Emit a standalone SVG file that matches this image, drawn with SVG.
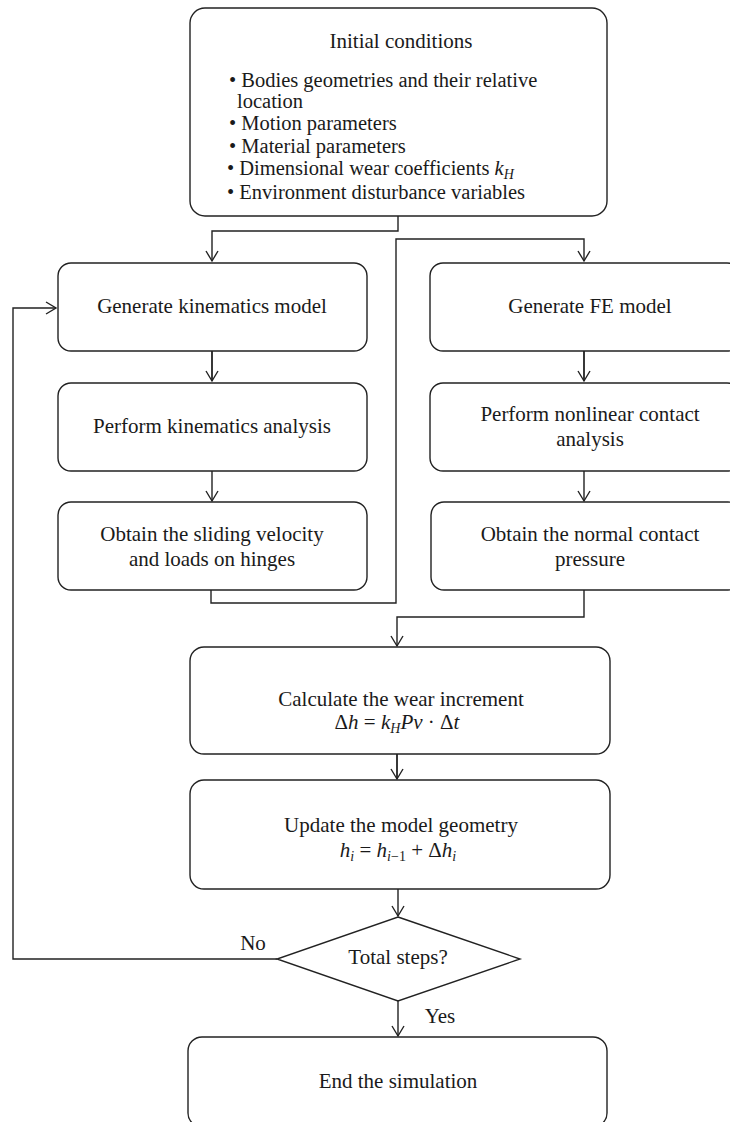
<svg xmlns="http://www.w3.org/2000/svg" width="730" height="1122" viewBox="0 0 730 1122">
<style>
.box{fill:#fff;stroke:#222;stroke-width:1.4}
.ln{fill:none;stroke:#222;stroke-width:1.4}
text{font-family:"Liberation Serif","Times New Roman",serif;font-size:21px;fill:#1a1a1a}
.c{text-anchor:middle}
.it{font-style:italic}
.sub{font-size:14px}
</style>
<defs>
<marker id="ar" markerUnits="userSpaceOnUse" markerWidth="14" markerHeight="14" viewBox="0 0 14 14" refX="11" refY="7" orient="auto">
<path d="M1,1 L11,7 L1,13" fill="none" stroke="#222" stroke-width="1.4"/>
</marker>
</defs>
<rect width="730" height="1122" fill="#fff"/>

<g id="connectors">
<polyline class="ln" points="398,216 398,231 212,231 212,261" marker-end="url(#ar)"/>
<line class="ln" x1="212" y1="351" x2="212" y2="381" marker-end="url(#ar)" style="stroke-width:1.8"/>
<line class="ln" x1="212" y1="471" x2="212" y2="501" marker-end="url(#ar)"/>
<polyline class="ln" points="211,590 211,603 396,603 396,239 584,239 584,261" marker-end="url(#ar)"/>
<line class="ln" x1="584" y1="351" x2="584" y2="381" marker-end="url(#ar)" style="stroke-width:1.8"/>
<line class="ln" x1="584" y1="471" x2="584" y2="501" marker-end="url(#ar)"/>
<polyline class="ln" points="584,590 584,617 397,617 397,646" marker-end="url(#ar)"/>
<line class="ln" x1="397" y1="754" x2="397" y2="779" marker-end="url(#ar)" style="stroke-width:1.8"/>
<line class="ln" x1="398" y1="889" x2="398" y2="916" marker-end="url(#ar)"/>
<polyline class="ln" points="277,959 13,959 13,308 56,308" marker-end="url(#ar)"/>
<line class="ln" x1="398" y1="1001" x2="398" y2="1036" marker-end="url(#ar)"/>
<text x="253" y="950" class="c">No</text>
<text x="440" y="1023" class="c">Yes</text>
</g>

<g id="initial">
<rect class="box" x="190" y="8" width="417" height="208" rx="15"/>
<text x="401" y="48" class="c">Initial conditions</text>
<text x="229" y="87" style="font-size:20.5px">• Bodies geometries and their relative</text>
<text x="237" y="108" style="font-size:20.5px">location</text>
<text x="229" y="130" style="font-size:20.5px">• Motion parameters</text>
<text x="229" y="153" style="font-size:20.5px">• Material parameters</text>
<text x="227" y="175" style="font-size:20.5px">• Dimensional wear coefficients <tspan class="it">k</tspan><tspan class="it sub" dy="4">H</tspan></text>
<text x="227" y="199" style="font-size:20.5px">• Environment disturbance variables</text>
</g>

<g id="gen-kin">
<rect class="box" x="58" y="263" width="309" height="88" rx="13"/>
<text x="212" y="313" class="c">Generate kinematics model</text>
</g>
<g id="perf-kin">
<rect class="box" x="58" y="383" width="309" height="88" rx="13"/>
<text x="212" y="433" class="c">Perform kinematics analysis</text>
</g>
<g id="obtain-vel">
<rect class="box" x="58" y="502" width="309" height="88" rx="13"/>
<text x="212" y="541" class="c">Obtain the sliding velocity</text>
<text x="212" y="566" class="c">and loads on hinges</text>
</g>

<g id="gen-fe">
<rect class="box" x="430" y="263" width="310" height="88" rx="13"/>
<text x="590" y="313" class="c">Generate FE model</text>
</g>
<g id="perf-contact">
<rect class="box" x="430" y="383" width="310" height="88" rx="13"/>
<text x="590" y="421" class="c">Perform nonlinear contact</text>
<text x="590" y="446" class="c">analysis</text>
</g>
<g id="obtain-pressure">
<rect class="box" x="431" y="502" width="310" height="88" rx="13"/>
<text x="590" y="541" class="c">Obtain the normal contact</text>
<text x="590" y="566" class="c">pressure</text>
</g>

<g id="wear">
<rect class="box" x="190" y="647" width="420" height="107" rx="14"/>
<text x="401" y="706" class="c">Calculate the wear increment</text>
<text x="397" y="729" class="c">Δ<tspan class="it">h</tspan> = <tspan class="it">k</tspan><tspan class="it sub" dy="4">H</tspan><tspan class="it" dy="-4">Pv</tspan> · Δ<tspan class="it">t</tspan></text>
</g>

<g id="update">
<rect class="box" x="190" y="780" width="420" height="109" rx="14"/>
<text x="401" y="832" class="c">Update the model geometry</text>
<text x="398" y="857" class="c"><tspan class="it">h</tspan><tspan class="it sub" dy="4">i</tspan><tspan dy="-4"> = </tspan><tspan class="it">h</tspan><tspan class="sub" dy="4"><tspan class="it">i</tspan>−1</tspan><tspan dy="-4"> + Δ</tspan><tspan class="it">h</tspan><tspan class="it sub" dy="4">i</tspan></text>
</g>

<g id="decision">
<polygon class="box" points="398,917 520,959 398,1001 277,959"/>
<text x="398" y="964" class="c">Total steps?</text>
</g>

<g id="end">
<rect class="box" x="188" y="1037" width="419" height="90" rx="14"/>
<text x="398" y="1088" class="c">End the simulation</text>
</g>
</svg>
